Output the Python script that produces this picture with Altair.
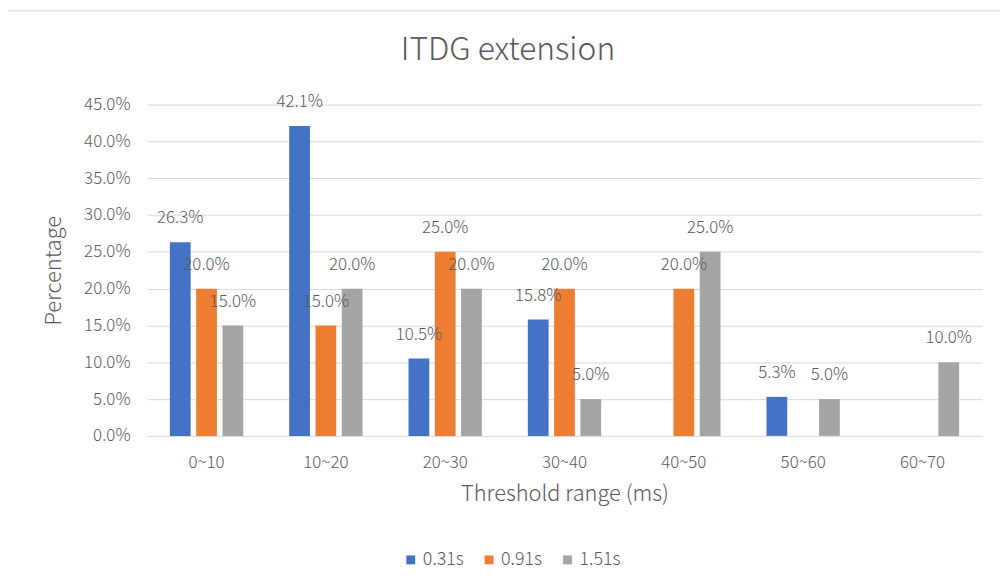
import altair as alt
import pandas as pd

categories = ["0~10", "10~20", "20~30", "30~40", "40~50", "50~60", "60~70"]
series_names = ["0.31s", "0.91s", "1.51s"]
s031 = [0.263, 0.421, 0.105, 0.158, 0.0, 0.053, 0.0]
s091 = [0.200, 0.150, 0.250, 0.200, 0.200, 0.0, 0.0]
s151 = [0.150, 0.200, 0.200, 0.050, 0.250, 0.050, 0.100]
colors = ["#4472C4", "#ED7D31", "#A5A5A5"]

rows = []
for name, vals in zip(series_names, [s031, s091, s151]):
    for c, v in zip(categories, vals):
        rows.append({"range": c, "series": name, "value": v})
df = pd.DataFrame(rows)

FONT = "Noto Sans CJK SC"
TXT = "#595959"
W, H = 842, 334

x = alt.X("range:N", sort=categories, scale=alt.Scale(paddingInner=0, paddingOuter=0),
          axis=alt.Axis(title="Threshold range (ms)", labelAngle=0, labelPadding=19,
                        tickSize=0, domain=False, titlePadding=13, titleFontSize=22,
                        labelFontSize=17))
xo = alt.XOffset("series:N", sort=series_names,
                 scale=alt.Scale(paddingInner=0.21, paddingOuter=0.875))
y = alt.Y("value:Q", scale=alt.Scale(domain=[0, 0.45], nice=False),
          axis=alt.Axis(title="Percentage", format=".1%", values=[i * 0.05 for i in range(10)],
                        tickSize=0, domain=False, labelPadding=17, titlePadding=18,
                        titleFontSize=22, labelFontSize=17, gridColor="#D9D9D9"))

bars = alt.Chart(df).mark_bar().encode(
    x=x, xOffset=xo, y=y,
    color=alt.Color("series:N", sort=series_names,
                    scale=alt.Scale(domain=series_names, range=colors),
                    legend=alt.Legend(title=None, orient="none", direction="horizontal",
                                      legendX=257, legendY=450, symbolType="square",
                                      symbolSize=80, labelFontSize=18, columnPadding=16,
                                      symbolStrokeWidth=0, labelOffset=3)),
)

labels = alt.Chart(df).transform_filter("datum.value > 0").mark_text(
    dy=-24, fontSize=17, color=TXT, font=FONT, baseline="middle", fontWeight=300
).encode(x=x, xOffset=xo, y=y, text=alt.Text("value:Q", format=".1%"))

title = alt.Chart(pd.DataFrame({"t": ["ITDG extension"]})).mark_text(
    fontSize=32, color=TXT, font=FONT, baseline="middle", align="center", fontWeight=300
).encode(x=alt.value(364), y=alt.value(-55), text="t:N")

border = alt.Chart(pd.DataFrame({"a": [0]})).mark_rect(
    fill=None, stroke="#D9D9D9", strokeWidth=1
).encode(x=alt.value(-140.5), x2=alt.value(870), y=alt.value(-94.5), y2=alt.value(600))

chart = alt.layer(border, bars, labels, title).properties(
    width=W, height=H,
    autosize=alt.AutoSizeParams(type="none"),
    padding={"left": 140, "top": 95, "right": 18, "bottom": 150},
).configure(font=FONT).configure_axis(
    labelColor=TXT, titleColor=TXT, labelFont=FONT, titleFont=FONT,
    titleFontWeight=300, labelFontWeight=300
).configure_axisX(grid=False).configure_legend(
    labelColor=TXT, labelFont=FONT, labelFontWeight=300
).configure_view(stroke=None)

chart.save("out.html", embed_options={"renderer": "svg", "actions": False})
